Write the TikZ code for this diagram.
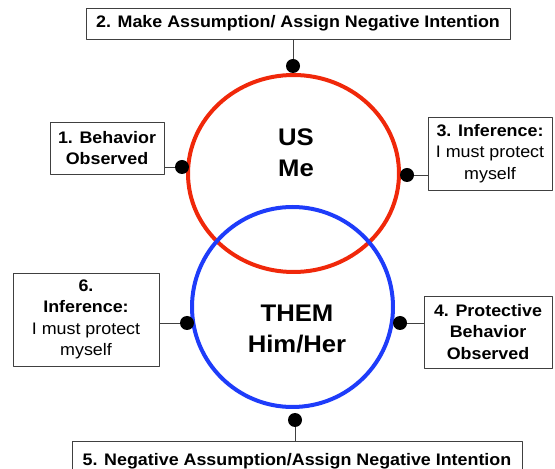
\documentclass[tikz,border=0pt]{standalone}
\usepackage{fontspec}
\setmainfont{Liberation Sans}[FakeStretch=1.07]
\usetikzlibrary{shapes.geometric}
\definecolor{usred}{RGB}{240,40,10}
\definecolor{themblue}{RGB}{30,60,250}
\begin{document}
\begin{tikzpicture}[line join=bevel,
  stepbox/.style={draw=black!75,line width=0.8bp,fill=white,inner sep=2bp,align=center,
    font=\fontsize{16.7bp}{21.5bp}\selectfont\bfseries},
  ring/.style={ellipse,line width=4bp,inner sep=0bp},
  knob/.style={circle,fill=black,inner sep=0bp,minimum size=14bp},
  tie/.style={draw=black!75,line width=0.8bp},
  big/.style={align=center,font=\fontsize{24bp}{31bp}\selectfont\bfseries}]
\useasboundingbox (0bp,0bp) rectangle (555bp,469bp);
%%
\node (us) at (293.5bp,295.5bp) [ring,draw=usred,minimum width=211bp,minimum height=197bp] {};
\node (them) at (292.5bp,162bp) [ring,draw=themblue,minimum width=201bp,minimum height=200bp] {};
\node (us_text) at (296bp,316bp) [big] {US\\Me};
\node (them_text) at (297bp,140bp) [big] {THEM\\Him/Her};
%
\node (node_1) at (107bp,321bp) [stepbox,minimum width=114bp,minimum height=52bp] {1. Behavior\\Observed};
\node (node_2) at (298bp,445.5bp) [stepbox,minimum width=424bp,minimum height=31bp] {2. Make Assumption/ Assign Negative Intention};
\node (node_3) at (490bp,315.5bp) [stepbox,minimum width=124bp,minimum height=73bp] {3. Inference:\\{\mdseries I must protect}\\{\mdseries myself}};
\node (node_4) at (488bp,137bp) [stepbox,minimum width=128bp,minimum height=72bp] {4. Protective\\Behavior\\Observed};
\node (node_5) at (297bp,28bp) [stepbox,anchor=north,minimum width=450bp,minimum height=40bp] {5. Negative Assumption/Assign Negative Intention};
\node (node_6) at (86bp,149.5bp) [stepbox,minimum width=146bp,minimum height=93bp] {6.\\Inference:\\{\mdseries I must protect}\\{\mdseries myself}};
%
\node (dot_1) at (182bp,302bp) [knob] {};
\node (dot_2) at (293bp,403bp) [knob] {};
\node (dot_3) at (407bp,294bp) [knob] {};
\node (dot_4) at (400bp,146bp) [knob] {};
\node (dot_5) at (295bp,49bp) [knob] {};
\node (dot_6) at (187bp,146bp) [knob] {};
%
\draw [tie] (node_1.east |- dot_1) -- (dot_1);
\draw [tie] (node_2.south -| dot_2) -- (dot_2);
\draw [tie] (node_3.west |- dot_3) -- (dot_3);
\draw [tie] (node_4.west |- dot_4) -- (dot_4);
\draw [tie] (node_5.north -| dot_5) -- (dot_5);
\draw [tie] (node_6.east |- dot_6) -- (dot_6);
%
\end{tikzpicture}
\end{document}
